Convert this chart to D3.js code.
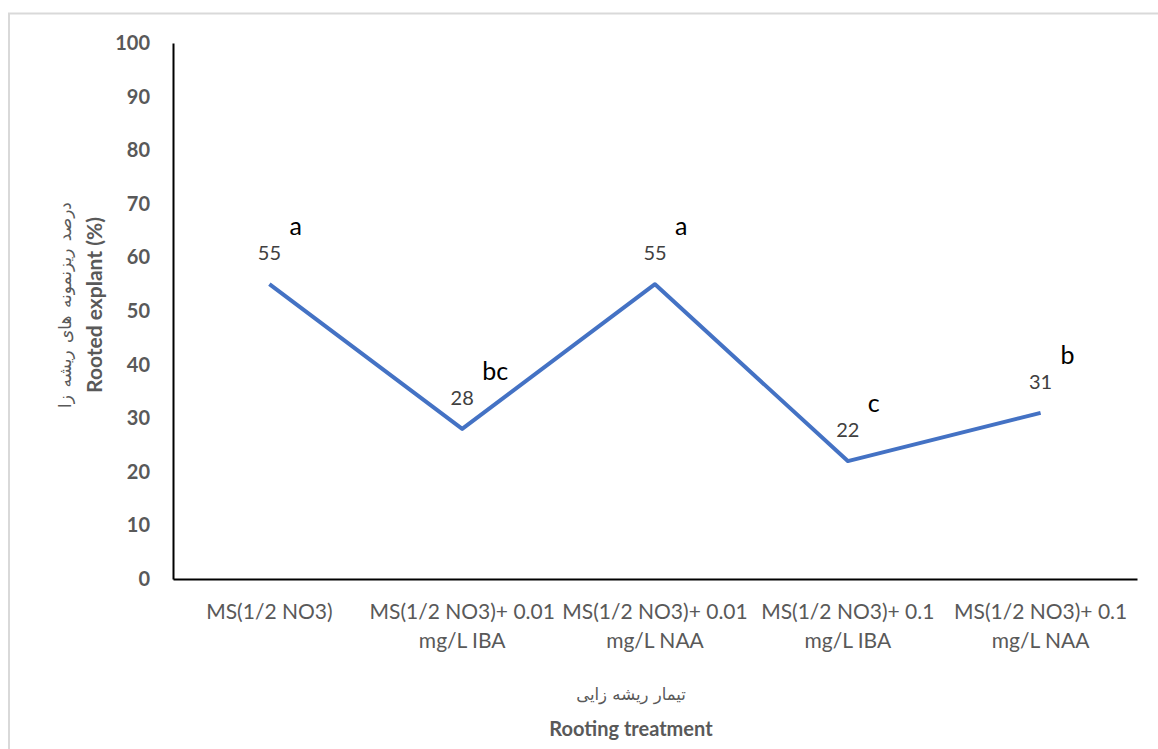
<!DOCTYPE html>
<html><head><meta charset="utf-8">
<script src="https://cdn.jsdelivr.net/npm/d3@7"></script>
<style>body{margin:0;background:#fff;}svg{display:block;}</style>
</head><body>
<svg id="c" width="1158" height="749"></svg>
<script>
const categories = [
  ["MS(1/2 NO3)"],
  ["MS(1/2 NO3)+ 0.01", "mg/L IBA"],
  ["MS(1/2 NO3)+ 0.01", "mg/L NAA"],
  ["MS(1/2 NO3)+ 0.1", "mg/L IBA"],
  ["MS(1/2 NO3)+ 0.1", "mg/L NAA"]
];
const values = [55, 28, 55, 22, 31];
const letters = ["a", "bc", "a", "c", "b"];
const yTicks = [0, 10, 20, 30, 40, 50, 60, 70, 80, 90, 100];
const yTitleFa = "درصد ریزنمونه های ریشه زا";
const yTitleEn = "Rooted explant (%)";
const xTitleFa = "تیمار ریشه زایی";
const xTitleEn = "Rooting treatment";

const svg = d3.select("#c");
const font = "Lato, 'Open Sans', sans-serif";
// outer frame
svg.append("rect").attr("x", 9).attr("y", 13.5).attr("width", 1160).attr("height", 760)
  .attr("fill", "none").attr("stroke", "#d9d9d9").attr("stroke-width", 2);

const L = 173, R = 1137, T = 43, B = 579;
const x = d3.scaleBand().domain(d3.range(categories.length)).range([L, R]);
const y = d3.scaleLinear().domain([0, 100]).range([B, T]);

// y axis
const ya = svg.append("g").attr("transform", `translate(${L},0)`)
  .call(d3.axisLeft(y).tickValues(yTicks).tickSize(0).tickPadding(23));
ya.select(".domain").attr("stroke", "#000").attr("stroke-width", 2);
ya.selectAll("text").attr("font-family", font).attr("font-size", 20).attr("font-weight", "bold").attr("fill", "#595959");

// x axis
const xa = svg.append("g").attr("transform", `translate(0,${B})`)
  .call(d3.axisBottom(x).tickSize(0).tickFormat(""));
xa.select(".domain").attr("stroke", "#000").attr("stroke-width", 2);
xa.selectAll(".tick").each(function(d) {
  const t = d3.select(this).append("text").attr("fill", "#595959").attr("font-family", font)
    .attr("font-size", 21).attr("text-anchor", "middle");
  categories[d].forEach((s, i) => t.append("tspan").attr("x", 0).attr("y", 40 + i * 29).text(s));
});

// line
const line = d3.line().x((d, i) => x(i) + x.bandwidth() / 2).y(d => y(d));
svg.append("path").datum(values).attr("d", line).attr("fill", "none")
  .attr("stroke", "#4472C4").attr("stroke-width", 4).attr("stroke-linejoin", "round");

// data labels
svg.selectAll(".dl").data(values).enter().append("text")
  .attr("x", (d, i) => x(i) + x.bandwidth() / 2).attr("y", d => y(d) - 24)
  .attr("text-anchor", "middle").attr("font-family", font).attr("font-size", 20)
  .attr("fill", "#404040").text(d => d);
svg.selectAll(".lt").data(values).enter().append("text")
  .attr("x", (d, i) => x(i) + x.bandwidth() / 2 + 20).attr("y", d => y(d) - 49)
  .attr("font-family", font).attr("font-size", 25).attr("fill", "#000")
  .text((d, i) => letters[i]);

// y titles
svg.append("text").attr("transform", "translate(71,305) rotate(-90)").attr("text-anchor", "middle")
  .attr("font-family", "'DejaVu Sans', sans-serif").attr("font-size", 17).attr("fill", "#595959")
  .attr("word-spacing", 2).attr("direction", "rtl").text(yTitleFa);
svg.append("text").attr("transform", "translate(102,305) rotate(-90)").attr("text-anchor", "middle")
  .attr("font-family", font).attr("font-size", 21).attr("font-weight", "bold").attr("fill", "#595959")
  .text(yTitleEn);
// x titles
svg.append("text").attr("x", 631).attr("y", 700).attr("text-anchor", "middle")
  .attr("font-family", "'DejaVu Sans', sans-serif").attr("font-size", 16.5).attr("fill", "#595959")
  .attr("direction", "rtl").text(xTitleFa);
svg.append("text").attr("x", 631).attr("y", 736).attr("text-anchor", "middle")
  .attr("font-family", font).attr("font-size", 20).attr("font-weight", "bold").attr("fill", "#595959")
  .text(xTitleEn);
</script>
</body></html>
